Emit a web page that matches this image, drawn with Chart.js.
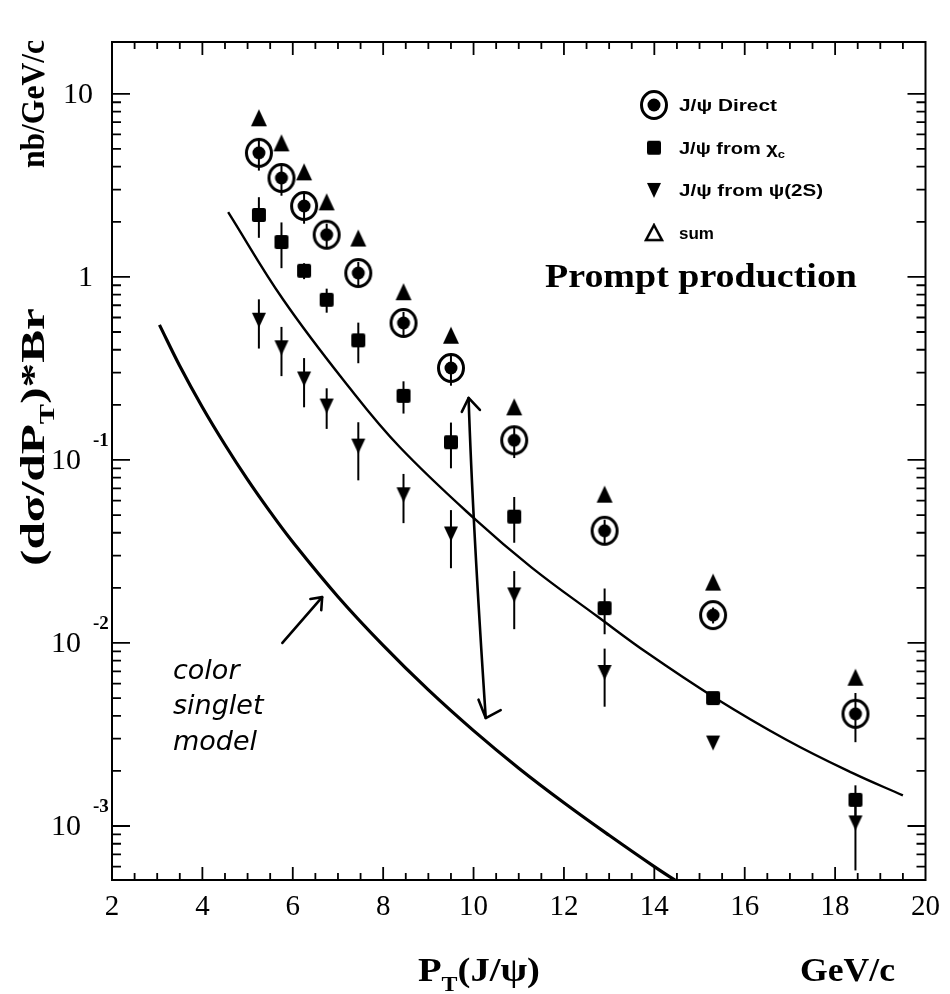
<!DOCTYPE html>
<html>
<head>
<meta charset="utf-8">
<style>
	html, body { margin: 0; padding: 0; background: #fff; }
	#wrap { width: 950px; height: 994px; }
</style>
</head>
<body>
<div id="wrap"><canvas id="myChart" width="950" height="994"></canvas></div>
<script src="https://cdn.jsdelivr.net/npm/chart.js"></script>
<script>
// J/psi prompt production (nb/GeV/c)
var pt = [5.25, 5.75, 6.25, 6.75, 7.45, 8.45, 9.5, 10.9, 12.9, 15.3, 18.45];
var direct = [4.76, 3.47, 2.44, 1.7, 1.05, 0.56, 0.318, 0.128, 0.041, 0.0142, 0.0041];
var fromChi = [2.18, 1.55, 1.08, 0.75, 0.45, 0.224, 0.125, 0.049, 0.0155, 0.005, 0.00139];
var fromPsi2S = [0.58, 0.41, 0.277, 0.197, 0.119, 0.0645, 0.0394, 0.0183, 0.0069, 0.00284, 0.00104];
var sum = [7.4, 5.4, 3.75, 2.57, 1.63, 0.83, 0.48, 0.195, 0.065, 0.0215, 0.0065];

// relative errors
var directErr = [0.2, 0.2, 0.2, 0.15, 0.15, 0.15, 0.2, 0.2, 0.15, 0.1, 0.3];
var chiErr = [0.25, 0.28, 0.1, 0.15, 0.25, 0.2, 0.28, 0.28, 0.28, 0, 0.2];
var psiErr = [0.3, 0.3, 0.3, 0.25, 0.35, 0.3, 0.35, 0.35, 0.35, 0, 0.45];

// theory curves
var octetX = [4.57, 5.79, 7.26, 8.36, 10.05, 11.28, 12.75, 13.84, 15.31, 16.91, 18.38, 19.5];
var octetY = [2.26, 0.75, 0.247, 0.118, 0.047, 0.0259, 0.0139, 0.00883, 0.00507, 0.00297, 0.00195, 0.00147];
var singletX = [3.05, 3.5, 4, 4.5, 5, 5.5, 6, 7, 8, 9, 10, 11, 12, 13, 14, 14.6];
var singletY = [0.547, 0.326, 0.194, 0.121, 0.078, 0.052, 0.0356, 0.0179, 0.0097, 0.00554, 0.00332, 0.00207, 0.00134, 0.00089, 0.0006, 0.00048];

// axes
var xMin = 2, xMax = 20;
var yMin = 5.07e-4, yMax = 19.2;
var yTicks = [10, 1, 0.1, 0.01, 0.001];
var yTickBase = ["10", "1", "10", "10", "10"];
var yTickExp = ["", "", "-1", "-2", "-3"];

// hand-written annotation (data coords)
var arrowLine = [[9.89, 0.218], [10.03, 0.0366], [10.27, 0.00389]];
var arrowTopHead = [[9.74, 0.183], [9.89, 0.218], [10.14, 0.1875]];
var arrowBotHead = [[10.11, 0.0049], [10.27, 0.00389], [10.6, 0.0043]];
var noteArrow = [[5.77, 0.01], [6.65, 0.0178]];
var noteHead = [[6.39, 0.0174], [6.65, 0.0178], [6.63, 0.0151]];
var noteLines = ["color", "singlet", "model"];

var SERIF = "'Liberation Serif', 'Times New Roman', serif";
var SANS = "'Liberation Sans', Arial, sans-serif";
var HAND = "'DejaVu Sans', sans-serif";

function marker(w, h, draw) {
	var c = document.createElement("canvas");
	c.width = w;
	c.height = h;
	var g = c.getContext("2d");
	g.fillStyle = "#000";
	g.strokeStyle = "#000";
	draw(g, w, h);
	return c;
}
var ringDot = marker(32, 32, function (g) {
	g.lineWidth = 3;
	g.beginPath();
	g.ellipse(16, 16, 12.5, 13.5, 0, 0, Math.PI * 2);
	g.stroke();
	g.beginPath();
	g.arc(16, 16, 6.5, 0, Math.PI * 2);
	g.fill();
});
var square = marker(16, 16, function (g) {
	g.beginPath();
	g.roundRect(1, 1, 14, 14, 2);
	g.fill();
});
var triDown = marker(16, 17, function (g) {
	g.beginPath();
	g.moveTo(1, 1);
	g.lineTo(15, 1);
	g.lineTo(8, 16);
	g.closePath();
	g.fill();
});
var triUp = marker(18, 19, function (g) {
	g.beginPath();
	g.moveTo(9, 1);
	g.lineTo(17, 18);
	g.lineTo(1, 18);
	g.closePath();
	g.fill();
});
var triOpen = marker(20, 20, function (g) {
	g.lineWidth = 2.5;
	g.beginPath();
	g.moveTo(10, 2);
	g.lineTo(18, 17);
	g.lineTo(2, 17);
	g.closePath();
	g.stroke();
});

function points(xs, ys) {
	return xs.map(function (x, i) {
		return { x: x, y: ys[i] };
	});
}

function partFont(kind, size, family, weight) {
	var s = kind ? Math.round(size * 0.62) : size;
	return weight + " " + s + "px " + family;
}
function richText(g, parts, x, y, size, family, weight, targetW) {
	var w = 0;
	parts.forEach(function (p) {
		g.font = partFont(p[1], size, family, weight);
		w += g.measureText(p[0]).width;
	});
	var sx = targetW ? targetW / w : 1;
	g.save();
	g.translate(x, y);
	g.scale(sx, 1);
	g.textAlign = "left";
	g.textBaseline = "alphabetic";
	var cx = 0;
	parts.forEach(function (p) {
		g.font = partFont(p[1], size, family, weight);
		var dy = p[1] === 1 ? size * 0.28 : p[1] === 2 ? -size * 0.42 : 0;
		g.fillText(p[0], cx, dy);
		cx += g.measureText(p[0]).width;
	});
	g.restore();
}

var errorBars = {
	id: "errorBars",
	beforeDatasetsDraw: function (chart) {
		var g = chart.ctx, xs = chart.scales.x, ys = chart.scales.y;
		g.save();
		g.strokeStyle = "#000";
		g.lineWidth = 2;
		chart.data.datasets.forEach(function (ds) {
			if (!ds.errors) return;
			ds.data.forEach(function (p, i) {
				var r = ds.errors[i];
				if (!r) return;
				var x = xs.getPixelForValue(p.x);
				g.beginPath();
				g.moveTo(x, ys.getPixelForValue(p.y * (1 + r)));
				g.lineTo(x, ys.getPixelForValue(p.y * (1 - r)));
				g.stroke();
			});
		});
		g.restore();
	},
};

var decorations = {
	id: "decorations",
	afterDraw: function (chart) {
		var g = chart.ctx, a = chart.chartArea, xs = chart.scales.x, ys = chart.scales.y;
		function P(d) {
			return [xs.getPixelForValue(d[0]), ys.getPixelForValue(d[1])];
		}
		g.save();
		g.strokeStyle = "#000";
		g.fillStyle = "#000";

		// frame
		g.lineWidth = 2;
		g.strokeRect(a.left, a.top, a.right - a.left, a.bottom - a.top);

		// inner ticks, y (log)
		g.lineWidth = 1.8;
		for (var n = -4; n <= 1; n++) {
			for (var m = 1; m <= 9; m++) {
				var v = m * Math.pow(10, n);
				if (v < yMin || v > yMax) continue;
				var py = ys.getPixelForValue(v);
				var len = m === 1 ? 18 : 9;
				g.beginPath();
				g.moveTo(a.left, py);
				g.lineTo(a.left + len, py);
				g.moveTo(a.right, py);
				g.lineTo(a.right - len, py);
				g.stroke();
			}
		}
		// inner ticks, x
		for (var t = xMin + 0.5; t < xMax; t += 0.5) {
			var px = xs.getPixelForValue(t);
			var l = t % 2 === 0 ? 13 : 7;
			g.beginPath();
			g.moveTo(px, a.bottom);
			g.lineTo(px, a.bottom - l);
			g.moveTo(px, a.top);
			g.lineTo(px, a.top + l);
			g.stroke();
		}

		// y tick labels with exponents
		g.textBaseline = "middle";
		yTicks.forEach(function (v, i) {
			var py = ys.getPixelForValue(v);
			g.font = "30px " + SERIF;
			g.textAlign = "right";
			g.fillText(yTickBase[i], yTickExp[i] ? 81 : 93, py + 1);
			if (yTickExp[i]) {
				g.font = "bold 19px " + SERIF;
				g.textAlign = "left";
				g.fillText(yTickExp[i], 93, py - 19);
			}
		});

		// axis titles
		g.save();
		g.translate(44, 566);
		g.rotate(-Math.PI / 2);
		richText(g, [["(dσ/dP", 0], ["T", 1], [")*Br", 0]], 0, 0, 34, SERIF, "bold", 258);
		richText(g, [["nb/GeV/c", 0]], 398, 0, 34, SERIF, "bold", 128);
		g.restore();
		richText(g, [["P", 0], ["T", 1], ["(J/ψ)", 0]], 418, 981, 34, SERIF, "bold", 122);
		richText(g, [["GeV/c", 0]], 800, 981, 34, SERIF, "bold", 95);

		// legend
		var rows = [
			[ringDot, [["J/ψ Direct", 0]], 98],
			[square, [["J/ψ from χ", 0], ["c", 1]], 106],
			[triDown, [["J/ψ from ψ(2S)", 0]], 144],
			[triOpen, [["sum", 0]], 0],
		];
		rows.forEach(function (r, i) {
			var cy = 105 + i * 42.7;
			g.drawImage(r[0], 654 - r[0].width / 2, cy - r[0].height / 2);
			richText(g, r[1], 679, cy + 6, 17, SANS, "bold", r[2]);
		});
		richText(g, [["Prompt production", 0]], 545, 287, 34, SERIF, "bold", 312);

		// hand-drawn double arrow
		g.lineWidth = 2.6;
		g.lineCap = "round";
		g.lineJoin = "round";
		var p0 = P(arrowLine[0]), p1 = P(arrowLine[1]), p2 = P(arrowLine[2]);
		var cx = 2 * p1[0] - (p0[0] + p2[0]) / 2, cy = 2 * p1[1] - (p0[1] + p2[1]) / 2;
		g.beginPath();
		g.moveTo(p0[0], p0[1]);
		g.quadraticCurveTo(cx, cy, p2[0], p2[1]);
		g.stroke();
		[arrowTopHead, arrowBotHead, noteHead].forEach(function (h) {
			g.beginPath();
			h.forEach(function (d, k) {
				var q = P(d);
				if (k === 0) g.moveTo(q[0], q[1]);
				else g.lineTo(q[0], q[1]);
			});
			g.stroke();
		});
		var n0 = P(noteArrow[0]), n1 = P(noteArrow[1]);
		g.beginPath();
		g.moveTo(n0[0], n0[1]);
		g.lineTo(n1[0], n1[1]);
		g.stroke();

		// hand-written note
		var noteY = [679, 714, 750];
		noteLines.forEach(function (s, i) {
			richText(g, [[s, 0]], 173, noteY[i], 27, HAND, "italic", 0);
		});
		g.restore();
	},
};

var ctx = document.getElementById("myChart").getContext("2d");
var myChart = new Chart(ctx, {
	type: "scatter",
	data: {
		datasets: [
			{
				label: "J/ψ Direct",
				data: points(pt, direct),
				errors: directErr,
				pointStyle: ringDot,
				pointRadius: 8,
			},
			{
				label: "J/ψ from χc",
				data: points(pt, fromChi),
				errors: chiErr,
				pointStyle: square,
				pointRadius: 8,
			},
			{
				label: "J/ψ from ψ(2S)",
				data: points(pt, fromPsi2S),
				errors: psiErr,
				pointStyle: triDown,
				pointRadius: 8,
			},
			{
				label: "sum",
				data: points(pt, sum),
				pointStyle: triUp,
				pointRadius: 8,
			},
			{
				label: "octet",
				data: points(octetX, octetY),
				showLine: true,
				borderColor: "#000",
				borderWidth: 2.4,
				pointRadius: 0,
				tension: 0.4,
			},
			{
				label: "color singlet model",
				data: points(singletX, singletY),
				showLine: true,
				borderColor: "#000",
				borderWidth: 3.2,
				pointRadius: 0,
				tension: 0.4,
			},
		],
	},
	options: {
		responsive: false,
		animation: false,
		devicePixelRatio: 1,
		layout: { padding: { left: 0, top: 42, right: 18, bottom: 0 } },
		plugins: {
			legend: { display: false },
			tooltip: { enabled: false },
		},
		scales: {
			x: {
				type: "linear",
				min: xMin,
				max: xMax,
				grid: { display: false, drawTicks: false },
				border: { display: false },
				ticks: {
					stepSize: 2,
					padding: 10,
					color: "#000",
					font: { family: SERIF, size: 29 },
				},
				afterFit: function (s) {
					s.height = 114;
				},
			},
			y: {
				type: "logarithmic",
				min: yMin,
				max: yMax,
				grid: { display: false, drawTicks: false },
				border: { display: false },
				ticks: { display: false },
				afterFit: function (s) {
					s.width = 112;
				},
			},
		},
	},
	plugins: [errorBars, decorations],
});
</script>
</body>
</html>
